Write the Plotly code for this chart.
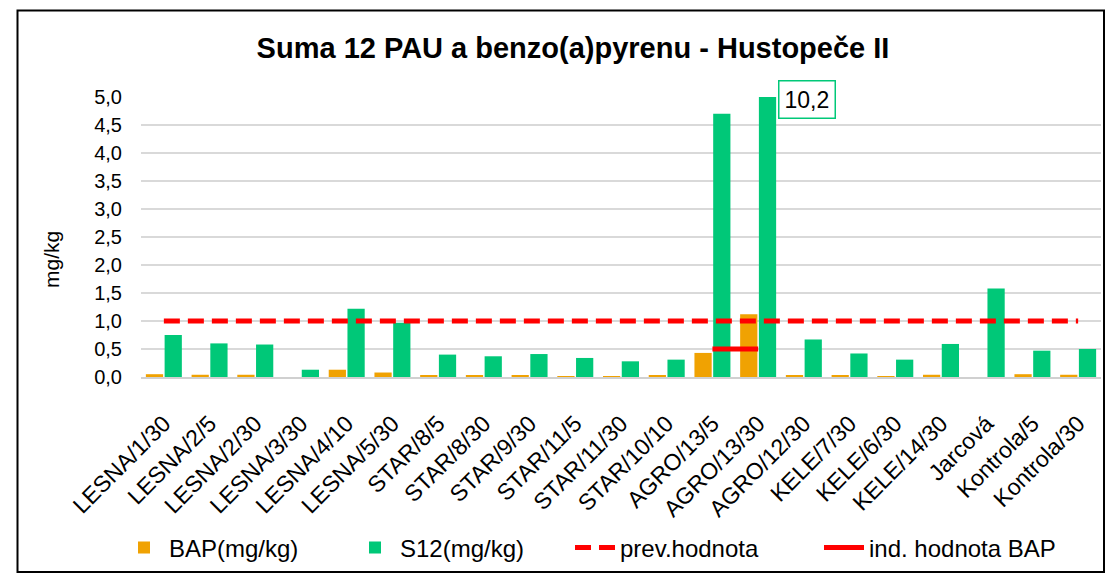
import plotly.graph_objects as go

categories = ["LESNA/1/30", "LESNA/2/5", "LESNA/2/30", "LESNA/3/30", "LESNA/4/10",
              "LESNA/5/30", "STAR/8/5", "STAR/8/30", "STAR/9/30", "STAR/11/5",
              "STAR/11/30", "STAR/10/10", "AGRO/13/5", "AGRO/13/30", "AGRO/12/30",
              "KELE/7/30", "KELE/6/30", "KELE/14/30", "Jarcová", "Kontrola/5",
              "Kontrola/30"]
bap = [0.05, 0.04, 0.04, 0.0, 0.13, 0.08, 0.03, 0.02, 0.02, 0.01,
       0.01, 0.02, 0.43, 1.12, 0.03, 0.02, 0.01, 0.04, 0.0, 0.05, 0.04]
s12 = [0.75, 0.60, 0.58, 0.13, 1.22, 0.97, 0.40, 0.37, 0.41, 0.34,
       0.28, 0.31, 4.70, 10.2, 0.67, 0.42, 0.31, 0.59, 1.58, 0.47, 0.50]
prev_hodnota = [1.0] * 21
ind_hodnota = [None, None, None, None, None, None, None, None, None, None,
               None, None, 0.5, 0.5, None, None, None, None, None, None, None]
y_ticks = [0.0, 0.5, 1.0, 1.5, 2.0, 2.5, 3.0, 3.5, 4.0, 4.5, 5.0]

FONT = "Liberation Sans, Arial, sans-serif"
ORANGE = "#F0A202"
GREEN = "#00C878"
RED = "#FF0000"

fig = go.Figure()
fig.add_trace(go.Bar(x=categories, y=bap, name="BAP(mg/kg)", marker_color=ORANGE,
                     marker_line_width=0, legend="legend"))
fig.add_trace(go.Bar(x=categories, y=s12, name="S12(mg/kg)", marker_color=GREEN,
                     marker_line_width=0, legend="legend2"))
fig.add_trace(go.Scatter(x=categories, y=prev_hodnota, name="prev.hodnota", mode="lines",
                         line=dict(color=RED, width=5, dash="16px,8px"), legend="legend3"))
fig.add_trace(go.Scatter(x=categories, y=ind_hodnota, name="ind. hodnota BAP", mode="lines",
                         line=dict(color=RED, width=5), connectgaps=False, legend="legend4"))

# page body has an 8px margin: work in window pixels, convert to figure pixels
OFF = 8
W, H = 1115 - OFF, 579 - OFF
L = 141 - OFF
R = W - (1101 - OFF)
T = 97 - OFF
B = H - (377 - OFF)
pw, ph = W - L - R, H - T - B

def px(x):
    return (x - OFF - L) / pw

def py(y):
    return (H - B - (y - OFF)) / ph

# label for clipped bar
big_idx = s12.index(max(s12))
fig.add_annotation(x=categories[big_idx], y=4.95, xref="x", yref="y", xshift=49,
                   text=f"{s12[big_idx]:.1f}".replace(".", ","), showarrow=False,
                   font=dict(family=FONT, size=23, color="black"),
                   bgcolor="white", bordercolor=GREEN, borderwidth=1.5, borderpad=5)

# y-axis title
fig.add_annotation(x=px(52), y=py(260), xref="paper", yref="paper", text="mg/kg",
                   textangle=-90, showarrow=False, xanchor="center", yanchor="middle",
                   font=dict(family=FONT, size=21, color="black"))

# outer frame
fig.add_shape(type="rect", xref="paper", yref="paper",
              x0=px(17.5), x1=px(1104), y0=py(572), y1=py(10.5),
              line=dict(color="black", width=2), layer="above")

def leg(text_start_px):
    return dict(orientation="h", x=px(text_start_px - 53), xanchor="left",
                y=py(548), yanchor="middle", itemwidth=40,
                font=dict(family=FONT, size=24, color="black"),
                bgcolor="rgba(0,0,0,0)")

fig.update_layout(
    width=W, height=H,
    margin=dict(l=L, r=R, t=T, b=B, autoexpand=False),
    paper_bgcolor="white", plot_bgcolor="white",
    separators=", ",
    barmode="group", bargap=0.18, bargroupgap=0.08,
    title=dict(text="<b>Suma 12 PAU a benzo(a)pyrenu - Hustopeče II</b>",
               x=(573 - OFF) / W, xanchor="center", y=1 - (48 - OFF) / H, yanchor="middle",
               font=dict(family=FONT, size=29, color="black")),
    font=dict(family=FONT, color="black"),
    showlegend=True,
    legend=leg(172),
    legend2=leg(403),
    legend3=leg(623),
    legend4=leg(872),
    xaxis=dict(type="category", tickangle=-45, automargin=False,
               tickfont=dict(family=FONT, size=23, color="black"),
               showline=True, linecolor="#D0D0D0", linewidth=2,
               showgrid=False, ticks="", ticklabelstandoff=22),
    yaxis=dict(range=[0, 5], tickvals=y_ticks, tickformat=".1f", automargin=False,
               tickfont=dict(family=FONT, size=20, color="black"),
               showgrid=True, gridcolor="#D9D9D9", gridwidth=1.5,
               zeroline=False, showline=False, ticks="", ticklabelstandoff=18),
)

fig.write_html("out.html")
